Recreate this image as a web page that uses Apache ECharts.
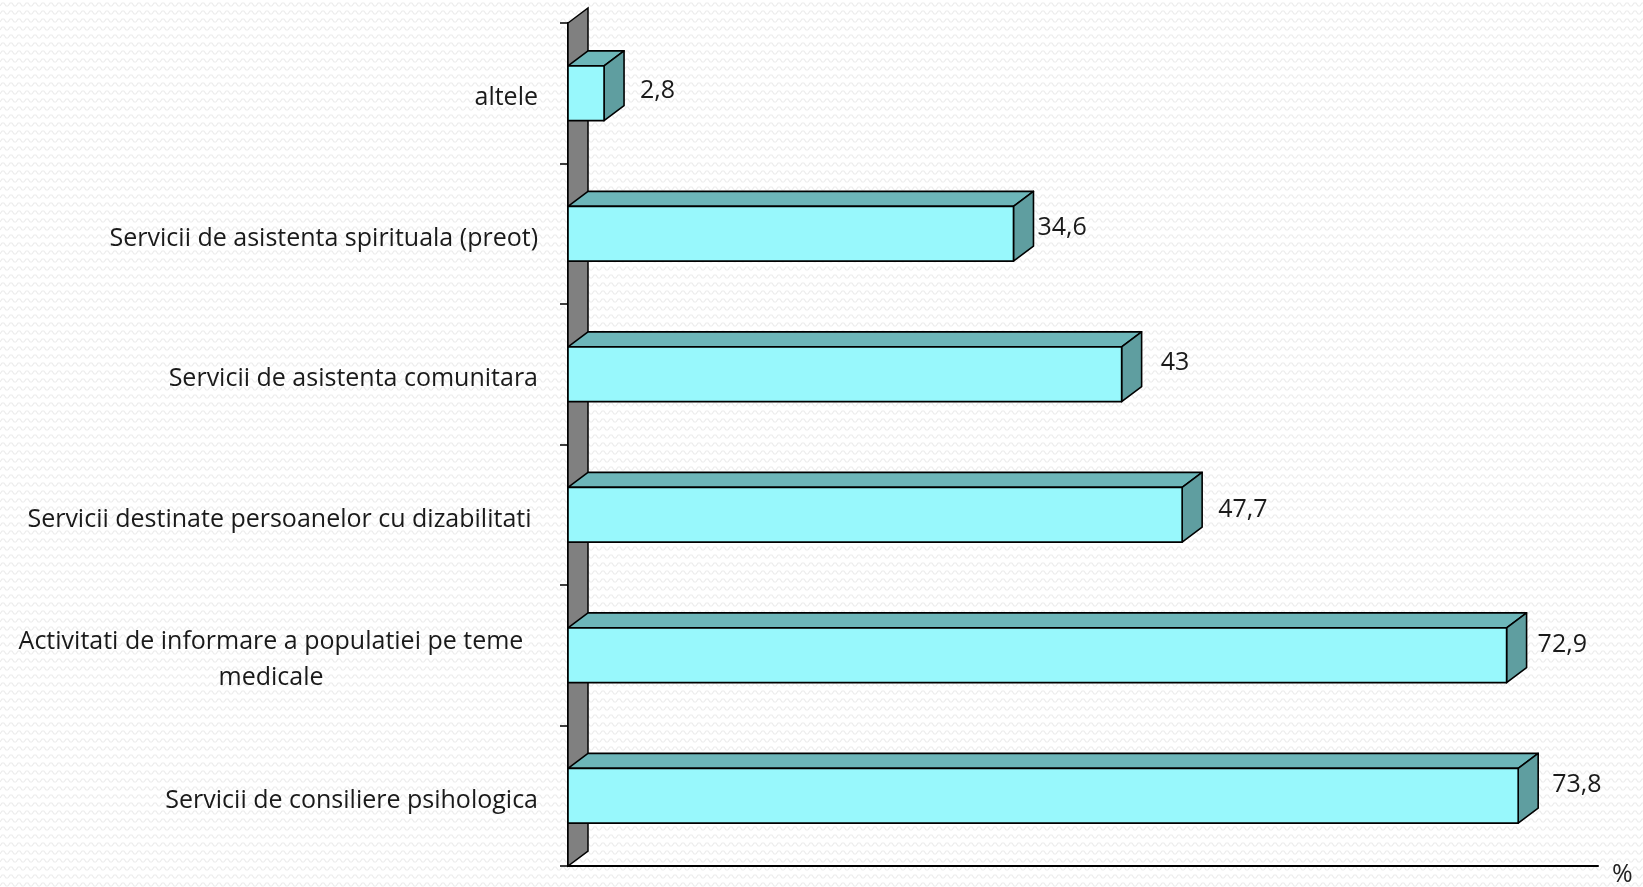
<!DOCTYPE html>
<html>
<head>
<meta charset="utf-8">
<script src="https://cdn.jsdelivr.net/npm/echarts@6/dist/echarts.min.js"></script>
<style>
html,body{margin:0;padding:0;width:1643px;height:887px;overflow:hidden;
background-color:#ffffff;
background-image:url("data:image/svg+xml;utf8,<svg xmlns='http://www.w3.org/2000/svg' width='8' height='8'><path d='M0 6 L2 3 L4 3 L6 6 L8 6' fill='none' stroke='%23ececec' stroke-width='1.2'/></svg>");
background-repeat:repeat;}
#chart{width:1643px;height:887px;}
</style>
</head>
<body>
<div id="chart"></div>
<script>
// ---- data (top to bottom) ----
const categories = [
  'altele',
  'Servicii de asistenta spirituala (preot)',
  'Servicii de asistenta comunitara',
  'Servicii destinate persoanelor cu dizabilitati ',
  'Activitati de informare a populatiei pe teme\nmedicale',
  'Servicii de consiliere psihologica'
];
const values = [2.8, 34.6, 43, 47.7, 72.9, 73.8];
const axisMin = 0;
const axisMax = 80;
const axisName = '%';

// ---- style ----
const labelNudgeX = [36, 24, 39, 36, 31, 34];
const labelNudgeY = [-2, -6, -11, -5, -10, -10.5];
const DX = 20, DY = 15, BAR_RATIO = 0.39;
const FONT = '"Open Sans", Lato, sans-serif';
const FS = 25;

const chart = echarts.init(document.getElementById('chart'), null, {renderer: 'canvas'});

function fmt(v) { return String(v).replace('.', ','); }

const option = {
  backgroundColor: 'transparent',
  animation: false,
  grid: {left: 568, right: 45, top: 23, bottom: 17, containLabel: false},
  xAxis: {
    type: 'value', min: axisMin, max: axisMax,
    axisLine: {show: true, lineStyle: {color: '#000', width: 2}},
    axisTick: {show: false}, axisLabel: {show: false}, splitLine: {show: false},
    name: axisName, nameLocation: 'end', nameGap: 14,
    nameTextStyle: {fontFamily: FONT, fontSize: FS, color: '#222', verticalAlign: 'top', padding: [-4, 0, 0, 0]}
  },
  yAxis: {
    type: 'category', data: categories, inverse: true,
    axisLine: {show: true, lineStyle: {color: '#000', width: 2}},
    axisTick: {show: true, length: 8, lineStyle: {color: '#000', width: 1.5}},
    axisLabel: {
      margin: 30, fontFamily: FONT, fontSize: FS, color: '#1a1a1a', lineHeight: 36,
      padding: [10, 0, 0, 0],
      formatter: function (v) { return v.indexOf('\n') >= 0 ? '{c|' + v + '}' : v; },
      rich: {c: {fontFamily: FONT, fontSize: FS, color: '#1a1a1a', lineHeight: 36, width: 534, align: 'center'}}
    },
    splitLine: {show: false}
  },
  series: [
    {
      type: 'custom', z: 1,
      data: [[0, 0]],
      renderItem: function (params, api) {
        const cs = params.coordSys;
        const x = cs.x, y = cs.y, h = cs.height;
        return {
          type: 'polygon',
          shape: {points: [[x, y], [x + DX, y - DY], [x + DX, y + h - DY], [x, y + h]]},
          style: {fill: '#808080', stroke: '#000', lineWidth: 1.5}
        };
      }
    },
    {
      type: 'custom', z: 3,
      encode: {x: 0, y: 1},
      data: values.map((v, i) => [v, i]),
      renderItem: function (params, api) {
        const v = api.value(0), i = api.value(1);
        const pR = api.coord([v, i]);
        const pL = api.coord([0, i]);
        const band = api.size([0, 1])[1];
        const bh = band * BAR_RATIO;
        const xL = pL[0], xR = pR[0], yC = pR[1];
        const yT = yC - bh / 2, yB = yC + bh / 2;
        const edge = {stroke: '#000', lineWidth: 1.6, lineJoin: 'round'};
        return {
          type: 'group',
          children: [
            {type: 'polygon', shape: {points: [[xL, yT], [xL + DX, yT - DY], [xR + DX, yT - DY], [xR, yT]]},
             style: Object.assign({fill: '#6DB6B9'}, edge)},
            {type: 'polygon', shape: {points: [[xR, yT], [xR + DX, yT - DY], [xR + DX, yB - DY], [xR, yB]]},
             style: Object.assign({fill: '#5F9EA0'}, edge)},
            {type: 'rect', shape: {x: xL, y: yT, width: xR - xL, height: bh},
             style: Object.assign({fill: '#98F8FC'}, edge)},
            {type: 'text', x: xR + labelNudgeX[i], y: yC + labelNudgeY[i],
             style: {text: fmt(values[i]), fontFamily: FONT, fontSize: FS, fill: '#1a1a1a',
                     align: 'left', verticalAlign: 'middle'}}
          ]
        };
      }
    }
  ]
};
chart.setOption(option);
</script>
</body>
</html>
